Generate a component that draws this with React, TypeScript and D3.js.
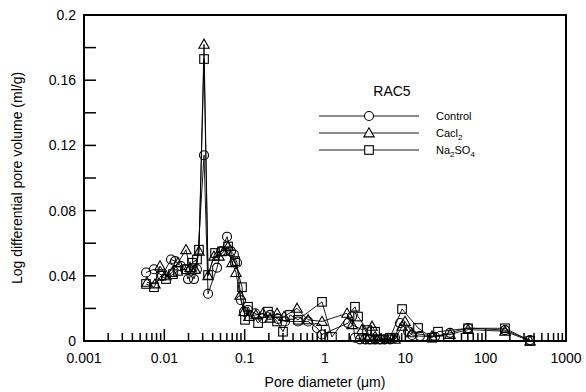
import React from "react";
import * as d3 from "d3";

const controlD = [0.00592,0.00743,0.00935,0.0121,0.0136,0.0161,0.0181,0.0197,0.0215,0.0234,0.0255,0.0312,0.035,0.0453,0.0508,0.0603,0.0676,0.0736,0.0803,0.09,0.0982,0.11,0.135,0.169,0.207,0.26,0.318,0.461,0.615,0.796,0.918,1.94,2.17,2.36,2.73,3.15,3.63,4.2,4.84,5.59,6.45,7.44,8.59,10.8,12.1,15.2,23.4,36,60.3,174,357];
const controlV = [0.042,0.044,0.04,0.05,0.049,0.046,0.044,0.038,0.044,0.038,0.044,0.114,0.029,0.045,0.055,0.064,0.055,0.053,0.048,0.025,0.018,0.019,0.017,0.014,0.016,0.0135,0.012,0.012,0.012,0.008,0.004,0.011,0.015,0.002,0.001,0.001,0.001,0.001,0.001,0.001,0.001,0.002,0.011,0.006,0.0037,0.003,0.0026,0.005,0.008,0.0067,0.0006];

const cacl2D = [0.00608,0.00765,0.00883,0.0105,0.0125,0.0148,0.0186,0.0209,0.0241,0.027,0.0312,0.035,0.0415,0.048,0.0553,0.0621,0.0695,0.078,0.0875,0.0982,0.113,0.138,0.169,0.207,0.253,0.309,0.449,0.615,0.918,1.88,2.17,2.89,3.85,4.84,7.44,9.1,9.91,12.1,21.5,36,60.3,174,357];
const cacl2V = [0.036,0.035,0.046,0.04,0.042,0.048,0.056,0.045,0.044,0.055,0.182,0.04,0.052,0.052,0.055,0.058,0.048,0.042,0.028,0.018,0.015,0.016,0.017,0.014,0.017,0.015,0.02,0.013,0.012,0.017,0.01,0.007,0.009,0.001,0.001,0.009,0.012,0.005,0.003,0.004,0.007,0.006,0.0];

const na2so4D = [0.00592,0.00743,0.0091,0.0105,0.0128,0.0148,0.0186,0.0221,0.0255,0.027,0.0312,0.035,0.0428,0.0522,0.0621,0.0759,0.0927,0.101,0.11,0.147,0.195,0.253,0.3,0.367,0.461,0.918,1.22,2.36,2.58,3.34,3.63,4.2,4.84,6.45,9.1,14.4,21.5,25.5,60.3,174,357];
const na2so4V = [0.035,0.033,0.04,0.038,0.041,0.043,0.044,0.048,0.05,0.056,0.173,0.0405,0.054,0.055,0.058,0.049,0.033,0.013,0.021,0.011,0.018,0.012,0.0057,0.016,0.013,0.024,0.0025,0.021,0.015,0.0067,0.001,0.0057,0.001,0.002,0.0196,0.008,0.002,0.0057,0.0078,0.0078,0.0];

const seriesNames = ["Control", "Cacl2", "Na2SO4"];
const yTicks = [0, 0.04, 0.08, 0.12, 0.16, 0.2];
const yMinor = [0.02, 0.06, 0.1, 0.14, 0.18];
const xTicks = [0.001, 0.01, 0.1, 1, 10, 100, 1000];

const W = 586, H = 392;
const L = 84, R = 566, T = 15, B = 341;

function Marker({ kind, x, y, fill }: { kind: string; x: number; y: number; fill: string }) {
  if (kind === "circle") return <circle cx={x} cy={y} r={4.5} fill={fill} stroke="black" strokeWidth={1.1} />;
  if (kind === "triangle") {
    const s = 5.2;
    return <path d={`M${x},${y - s}L${x + s},${y + s * 0.75}L${x - s},${y + s * 0.75}Z`} fill={fill} stroke="black" strokeWidth={1.1} />;
  }
  return <rect x={x - 4.3} y={y - 4.3} width={8.6} height={8.6} fill={fill} stroke="black" strokeWidth={1.1} />;
}

export default function App() {
  const x = d3.scaleLog().domain([0.001, 1000]).range([L, R]);
  const y = d3.scaleLinear().domain([0, 0.2]).range([B, T]);
  const line = d3.line<[number, number]>().x(d => x(d[0])).y(d => y(d[1]));
  const series = [
    { kind: "circle", pts: controlD.map((d, i) => [d, controlV[i]] as [number, number]) },
    { kind: "triangle", pts: cacl2D.map((d, i) => [d, cacl2V[i]] as [number, number]) },
    { kind: "square", pts: na2so4D.map((d, i) => [d, na2so4V[i]] as [number, number]) },
  ];
  const minorX: number[] = [];
  for (let e = -3; e < 3; e++) for (let m = 2; m <= 9; m++) minorX.push(m * Math.pow(10, e));
  const font = "Arial, 'Liberation Sans', sans-serif";
  const fmt = (v: number) => (v === 0 ? "0" : String(+v.toFixed(3)));
  const legendY = [116, 133, 150];
  return (
    <svg width={W} height={H} style={{ position: "absolute", left: 0, top: 0 }} fontFamily={font}>
      <rect width={W} height={H} fill="white" />
      {series.map((s, si) => (
        <path key={"l" + si} d={line(s.pts) || ""} fill="none" stroke="black" strokeWidth={0.9} />
      ))}
      {series.map((s, si) =>
        s.pts.map((p, i) => <Marker key={si + "-" + i} kind={s.kind} x={x(p[0])} y={y(p[1])} fill="none" />)
      )}
      <rect x={L} y={T} width={R - L} height={B - T} fill="none" stroke="black" strokeWidth={2} />
      {yTicks.map(t => (
        <g key={"yt" + t}>
          <line x1={L} x2={L + 12} y1={y(t)} y2={y(t)} stroke="black" strokeWidth={1.5} />
          <text x={L - 8} y={y(t) + 5} fontSize={14} textAnchor="end">{fmt(t)}</text>
        </g>
      ))}
      {yMinor.map(t => (
        <line key={"ym" + t} x1={L} x2={L + 12} y1={y(t)} y2={y(t)} stroke="black" strokeWidth={1.5} />
      ))}
      {xTicks.map(t => (
        <g key={"xt" + t}>
          <line x1={x(t)} x2={x(t)} y1={B} y2={B - 12} stroke="black" strokeWidth={1.5} />
          <text x={x(t)} y={B + 22} fontSize={14} textAnchor="middle">{t >= 1 ? String(t) : fmt(t)}</text>
        </g>
      ))}
      {minorX.map(t => (
        <line key={"xm" + t} x1={x(t)} x2={x(t)} y1={B} y2={B - 8} stroke="black" strokeWidth={1.5} />
      ))}
      <text x={(L + R) / 2} y={387} fontSize={14} textAnchor="middle">Pore diameter (μm)</text>
      <text transform={`translate(22,${(T + B) / 2}) rotate(-90)`} fontSize={14} textAnchor="middle">Log differential pore volume (ml/g)</text>
      <text x={392} y={96} fontSize={14} textAnchor="middle">RAC5</text>
      {seriesNames.map((n, i) => (
        <g key={"lg" + i}>
          <line x1={319} x2={419} y1={legendY[i]} y2={legendY[i]} stroke="black" strokeWidth={0.9} />
          <Marker kind={series[i].kind} x={369} y={legendY[i]} fill="white" />
          <text x={436} y={legendY[i] + 4} fontSize={11}>
            {i === 0 ? "Control" : i === 1 ? <>Cacl<tspan fontSize={8} dy={3}>2</tspan></> : <>Na<tspan fontSize={8} dy={3}>2</tspan><tspan dy={-3}>SO</tspan><tspan fontSize={8} dy={3}>4</tspan></>}
          </text>
        </g>
      ))}
    </svg>
  );
}
